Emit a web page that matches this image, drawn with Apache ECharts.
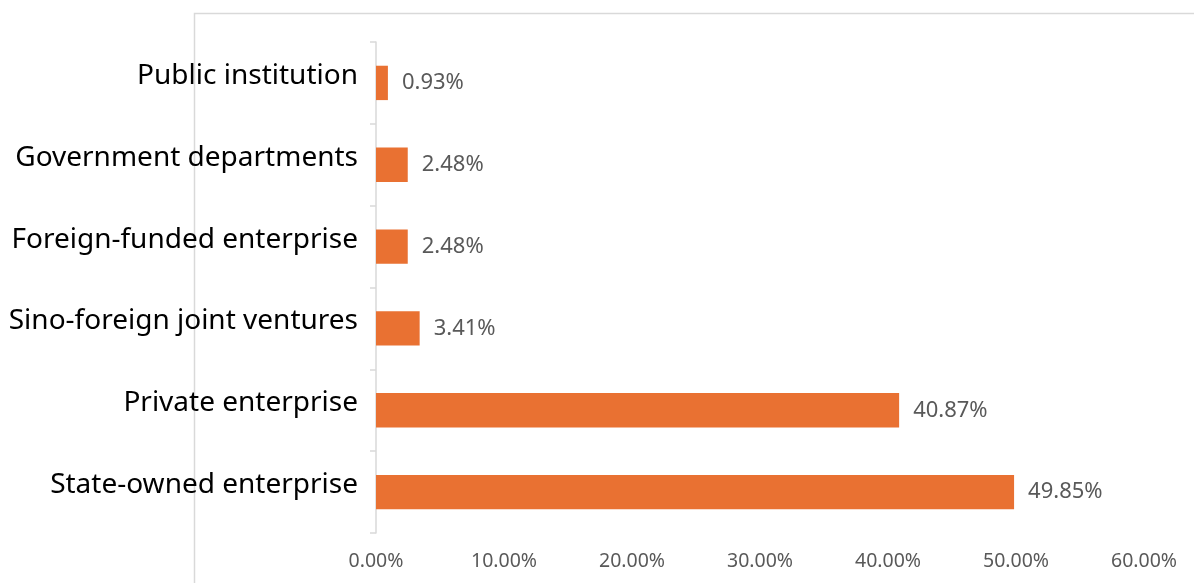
<!DOCTYPE html>
<html>
<head>
<meta charset="utf-8">
<script src="https://cdn.jsdelivr.net/npm/echarts@6/dist/echarts.min.js"></script>
<style>
  html, body { margin: 0; padding: 0; background: #fff; }
  #chart { width: 1194px; height: 583px; }
</style>
</head>
<body>
<div id="chart"></div>
<script>
// Employer types, listed bottom to top as drawn on the category axis
const categories = [
  'State-owned enterprise',
  'Private enterprise',
  'Sino-foreign joint ventures',
  'Foreign-funded enterprise',
  'Government departments',
  'Public institution'
];
// Share of graduates, in percent
const shares = [49.85, 40.87, 3.41, 2.48, 2.48, 0.93];
// Value axis range and step, in percent
const axisMin = 0;
const axisMax = 60;
const axisStep = 10;

const FONT = '"Noto Sans", sans-serif';

const chart = echarts.init(document.getElementById('chart'), null, { renderer: 'canvas' });

chart.setOption({
  animation: false,
  backgroundColor: '#ffffff',
  // light frame around the plot, open to the right and bottom
  graphic: [{
    type: 'rect',
    z: -10,
    silent: true,
    shape: { x: 194.5, y: 13.5, width: 1200, height: 800 },
    style: { fill: 'none', stroke: '#d9d9d9', lineWidth: 1.5 }
  }],
  grid: {
    left: 376, right: 50, top: 42, bottom: 50,
    containLabel: false,
    outerBoundsMode: 'none'
  },
  xAxis: {
    type: 'value',
    min: axisMin,
    max: axisMax,
    interval: axisStep,
    axisLine: { show: false },
    axisTick: { show: false },
    splitLine: { show: false },
    axisLabel: {
      color: '#595959',
      fontFamily: FONT,
      fontSize: 19.5,
      margin: 18,
      formatter: v => v.toFixed(2) + '%'
    }
  },
  yAxis: {
    type: 'category',
    data: categories,
    axisLine: { show: true, lineStyle: { color: '#d9d9d9', width: 1.5 } },
    axisTick: { show: true, length: 6, lineStyle: { color: '#d9d9d9', width: 1.5 } },
    axisLabel: {
      margin: 18,
      // category names sit slightly above the bar centres
      formatter: v => '{name|' + v + '}',
      rich: {
        name: {
          color: '#000000',
          fontFamily: FONT,
          fontSize: 28,
          padding: [0, 0, 14, 0]
        }
      }
    }
  },
  series: [{
    type: 'bar',
    data: shares,
    barWidth: '42%',
    itemStyle: { color: '#E97132' },
    label: {
      show: true,
      position: 'right',
      distance: 14,
      color: '#595959',
      fontFamily: FONT,
      fontSize: 22,
      formatter: p => p.value.toFixed(2) + '%'
    }
  }]
});
</script>
</body>
</html>
